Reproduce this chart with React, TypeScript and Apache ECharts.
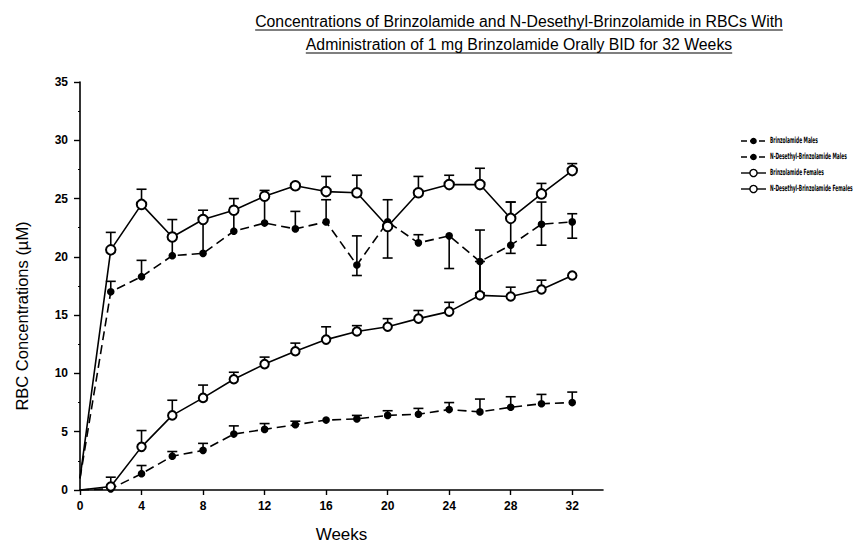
import React, { useEffect, useRef } from "react";
import * as echarts from "echarts";

const titleLines = [
  "Concentrations of Brinzolamide and N-Desethyl-Brinzolamide in RBCs With",
  "Administration of 1 mg Brinzolamide Orally BID for 32 Weeks",
];
const yAxisTitle = "RBC Concentrations (\u00b5M)";
const xAxisTitle = "Weeks";
const xTickValues = [0, 4, 8, 12, 16, 20, 24, 28, 32];

const weeks = [0, 2, 4, 6, 8, 10, 12, 14, 16, 18, 20, 22, 24, 26, 28, 30, 32];

const seriesNames = [
  "Brinzolamide Males",
  "N-Desethyl-Brinzolamide Males",
  "Brinzolamide Females",
  "N-Desethyl-Brinzolamide Females",
];

const brinzMales = [1.0, 17.0, 18.3, 20.1, 20.3, 22.2, 22.9, 22.4, 23.0, 19.3, 23.0, 21.2, 21.8, 19.6, 21.0, 22.8, 23.0];
const brinzMalesUp = [0, 0.9, 1.4, 1.6, 2.9, 1.8, 2.3, 1.5, 1.9, 2.5, 0, 0.7, 0, 2.7, 3.7, 1.9, 0.7];
const brinzMalesDown = [0, 0, 0, 0, 0, 0, 0, 0, 0, 0.9, 0, 0, 2.8, 2.7, 0.7, 1.8, 1.4];

const desMales = [0, 0.1, 1.4, 2.9, 3.4, 4.8, 5.2, 5.6, 6.0, 6.1, 6.4, 6.5, 6.9, 6.7, 7.1, 7.4, 7.5];
const desMalesUp = [0, 0, 0.7, 0.4, 0.6, 0.7, 0.5, 0.3, 0, 0.3, 0.4, 0.5, 0.6, 1.1, 0.9, 0.8, 0.9];
const desMalesDown = [0, 0, 0, 0, 0, 0, 0, 0, 0, 0, 0, 0, 0, 0, 0, 0, 0];

const brinzFemales = [1.0, 20.6, 24.5, 21.7, 23.2, 24.0, 25.2, 26.1, 25.6, 25.5, 22.6, 25.5, 26.2, 26.2, 23.3, 25.4, 27.4];
const brinzFemalesUp = [0, 1.5, 1.3, 1.5, 0.8, 1.0, 0.5, 0, 1.3, 1.5, 2.3, 1.4, 0.8, 1.4, 1.4, 0.9, 0.6];
const brinzFemalesDown = [0, 0, 0, 0, 0, 0, 0, 0, 0, 0, 2.7, 0, 0, 0, 0, 0, 0];

const desFemales = [0, 0.3, 3.7, 6.4, 7.9, 9.5, 10.8, 11.9, 12.9, 13.6, 14.0, 14.7, 15.3, 16.7, 16.6, 17.2, 18.4];
const desFemalesUp = [0, 0.8, 1.4, 1.3, 1.1, 0.6, 0.6, 0.7, 1.1, 0.5, 0.7, 0.7, 0.8, 2.9, 0.8, 0.8, 0];
const desFemalesDown = [0, 0, 0, 0, 0, 0, 0, 0, 0, 0, 0, 0, 0, 0, 0, 0, 0];

const FONT = "'Liberation Sans', Arial, sans-serif";
const LEGEND_FONT = "'DejaVu Sans Condensed', 'Liberation Sans', Arial, sans-serif";

function errData(vals: number[], up: number[], down: number[]) {
  const out: number[][] = [];
  weeks.forEach((w, i) => {
    if (up[i] > 0) out.push([w, vals[i], vals[i] + up[i], 1]);
    if (down[i] > 0) out.push([w, vals[i] - down[i], vals[i], -1]);
  });
  return out;
}

function renderErr(params: any, api: any) {
  const x = api.value(0);
  const lo = api.coord([x, api.value(1)]);
  const hi = api.coord([x, api.value(2)]);
  const capY = api.value(3) > 0 ? hi[1] : lo[1];
  const half = 5;
  const style = { stroke: "#000", lineWidth: 1.6, fill: null };
  return {
    type: "group",
    children: [
      { type: "line", shape: { x1: lo[0], y1: lo[1], x2: hi[0], y2: hi[1] }, style },
      { type: "line", shape: { x1: lo[0] - half, y1: capY, x2: lo[0] + half, y2: capY }, style },
    ],
  };
}

function measure(text: string, font: string) {
  const c = document.createElement("canvas").getContext("2d");
  if (!c) return text.length * 7;
  c.font = font;
  return c.measureText(text).width;
}

export default function App() {
  const ref = useRef<HTMLDivElement>(null);
  useEffect(() => {
    if (!ref.current) return;
    const chart = echarts.init(ref.current, null, { renderer: "svg" });
    const titleSize = 15.8;
    const titleCx = 519;
    const titleYs = [21, 44];
    const titleGraphics: any[] = [];
    titleLines.forEach((t, i) => {
      const w = measure(t, `${titleSize}px 'Liberation Sans', Arial, sans-serif`);
      titleGraphics.push({
        type: "text",
        x: titleCx,
        y: titleYs[i],
        style: {
          text: t,
          font: `${titleSize}px ${FONT}`,
          fill: "#000",
          textAlign: "center",
          textVerticalAlign: "middle",
        },
      });
      titleGraphics.push({
        type: "line",
        shape: { x1: titleCx - w / 2, y1: titleYs[i] + 9, x2: titleCx + w / 2, y2: titleYs[i] + 9 },
        style: { stroke: "#000", lineWidth: 1.2 },
      });
    });

    const styles = [
      { filled: true, size: 6 },
      { filled: true, size: 6 },
      { filled: false, size: 9.5 },
      { filled: false, size: 8.5 },
    ];
    const dataSets = [brinzMales, desMales, brinzFemales, desFemales];

    const lineSeries = seriesNames.map((name, k) => ({
      type: "line",
      name,
      data: weeks.map((w, i) =>
        w === 0 ? { value: [w, dataSets[k][i]], symbol: "none" } : { value: [w, dataSets[k][i]] }
      ),
      symbol: styles[k].filled ? "circle" : "emptyCircle",
      symbolSize: styles[k].size,
      showAllSymbol: true,
      z: 3,
      lineStyle: { color: "#000", width: 1.6, type: styles[k].filled ? [9, 5] : "solid" },
      itemStyle: { color: "#000", borderColor: "#000", borderWidth: 1.6 },
    }));

    const errSets = [
      errData(brinzMales, brinzMalesUp, brinzMalesDown),
      errData(desMales, desMalesUp, desMalesDown),
      errData(brinzFemales, brinzFemalesUp, brinzFemalesDown),
      errData(desFemales, desFemalesUp, desFemalesDown),
    ];
    const errSeries = errSets.map((d, i) => ({
      type: "custom",
      name: "err" + i,
      data: d,
      renderItem: renderErr,
      encode: { x: 0, y: [1, 2] },
      z: 2,
      silent: true,
    }));

    // legend drawn as graphic so that the compressed text fits
    const legendGraphics: any[] = [];
    const legX = 741;
    const legY0 = 141;
    const legStep = 16;
    seriesNames.forEach((name, k) => {
      const y = legY0 + k * legStep;
      const filled = styles[k].filled;
      legendGraphics.push({
        type: "line",
        shape: { x1: legX, y1: y, x2: legX + 25, y2: y },
        style: { stroke: "#000", lineWidth: 1.4, lineDash: filled ? [6, 3] : null },
      });
      legendGraphics.push({
        type: "circle",
        shape: { cx: legX + 12.5, cy: y, r: filled ? 2.6 : 3.6 },
        style: { fill: filled ? "#000" : "#fff", stroke: "#000", lineWidth: 1.4 },
      });
      legendGraphics.push({
        type: "text",
        x: legX + 29,
        y,
        scaleX: 0.57,
        style: {
          text: name,
          font: `bold 8.5px ${LEGEND_FONT}`,
          fill: "#000",
          textAlign: "left",
          textVerticalAlign: "middle",
        },
      });
    });

    chart.setOption({
      animation: false,
      backgroundColor: "#fff",
      grid: { left: 80, right: 258, top: 82, bottom: 55, outerBoundsMode: "none", containLabel: false },
      xAxis: {
        type: "value",
        min: 0,
        max: 34,
        interval: 4,
        name: xAxisTitle,
        nameLocation: "middle",
        nameGap: 36,
        nameTextStyle: { fontSize: 17, fontFamily: FONT, color: "#000" },
        axisLine: { lineStyle: { color: "#000", width: 1.6 } },
        axisTick: { length: 5, lineStyle: { color: "#000", width: 1.4 }, customValues: xTickValues },
        axisLabel: { color: "#000", fontSize: 12, fontWeight: "bold", fontFamily: FONT, margin: 10, customValues: xTickValues },
        splitLine: { show: false },
      },
      yAxis: {
        type: "value",
        min: 0,
        max: 35,
        interval: 5,
        axisLine: { show: true, lineStyle: { color: "#000", width: 1.6 } },
        axisTick: { show: true, length: 6, lineStyle: { color: "#000", width: 1.4 } },
        minorTick: { show: true, splitNumber: 2, length: 2, lineStyle: { color: "#000", width: 1.2 } },
        axisLabel: { color: "#000", fontSize: 12, fontWeight: "bold", fontFamily: FONT, margin: 12 },
        splitLine: { show: false },
      },
      graphic: [
        ...titleGraphics,
        ...legendGraphics,
        {
          type: "text",
          x: 22,
          y: 316,
          rotation: Math.PI / 2,
          style: {
            text: yAxisTitle,
            font: `16.5px ${FONT}`,
            fill: "#000",
            textAlign: "center",
            textVerticalAlign: "middle",
          },
        },
      ],
      series: [...errSeries, ...lineSeries],
    });
    return () => chart.dispose();
  }, []);
  return <div ref={ref} style={{ position: "fixed", left: 0, top: 0, width: 861, height: 545 }} />;
}
